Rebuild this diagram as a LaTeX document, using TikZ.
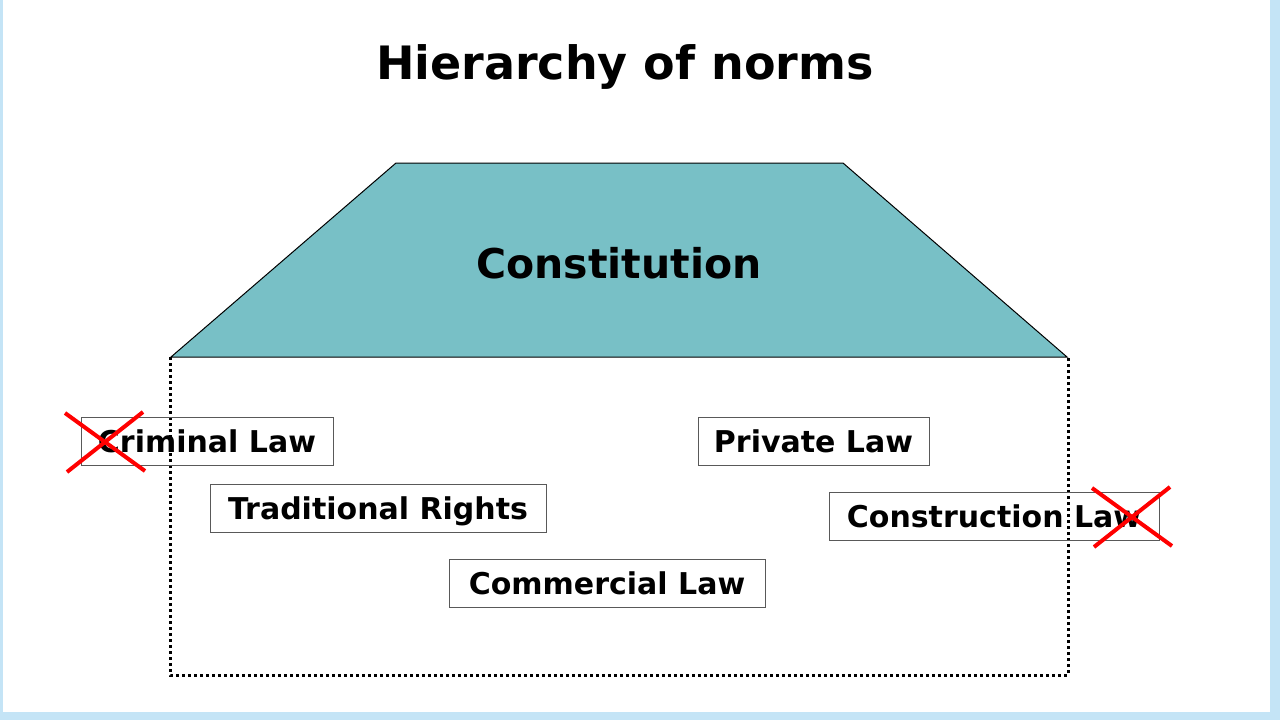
\documentclass[tikz,border=0pt]{standalone}
\usepackage{fontspec}
\setmainfont{DejaVu Sans}
\definecolor{consti}{RGB}{120,192,198}
\definecolor{fond}{RGB}{196,228,246}
\begin{document}
\begin{tikzpicture}[x=1pt, y=-1pt,
  loi/.style={draw=black!65, line width=1pt, font=\fontsize{30}{34}\selectfont\bfseries,
    minimum height=48pt, inner sep=0pt, text height=23pt, text depth=0pt},
  pointille/.style={line width=3pt, dash pattern=on 3pt off 3pt}]
  \useasboundingbox (0,0) rectangle (1280,720);

  % Fond de la diapositive
  \fill[fond] (0,0) rectangle (1280,720);
  \fill[white] (3,0) rectangle (1270,712);

  % Titre
  \node[font=\fontsize{46}{50}\selectfont\bfseries] (titre) at (625,67) {Hierarchy of norms};

  % Constitution
  \draw[fill=consti, line width=1pt] (396,163) -- (843,163) -- (1067,357) -- (171,357) -- cycle;
  \node[font=\fontsize{41}{45}\selectfont\bfseries] (constitution) at (619,263) {Constitution};

  % Cadre en pointill'es
  \draw[pointille] (170,357) -- (170,675) -- (1068,675) -- (1068,357);

  % Lois
  \node[loi, minimum width=252pt] (penal) at (207,441) {Criminal Law};
  \node[loi, minimum width=336pt] (coutume) at (378,508) {Traditional Rights};
  \node[loi, minimum width=316pt] (commerce) at (607,583) {Commercial Law};
  \node[loi, minimum width=231pt] (prive) at (813.5,441) {Private Law};
  \node[loi, minimum width=330pt] (construction) at (994,516) {Construction Law};

  % Croix
  \foreach \x/\y in {105/442, 1132/517} {
    \draw[red, line width=4pt] (\x-40,\y-29) -- (\x+40,\y+29);
    \draw[red, line width=4pt] (\x-38,\y+30) -- (\x+38,\y-30);
  }
\end{tikzpicture}
\end{document}
